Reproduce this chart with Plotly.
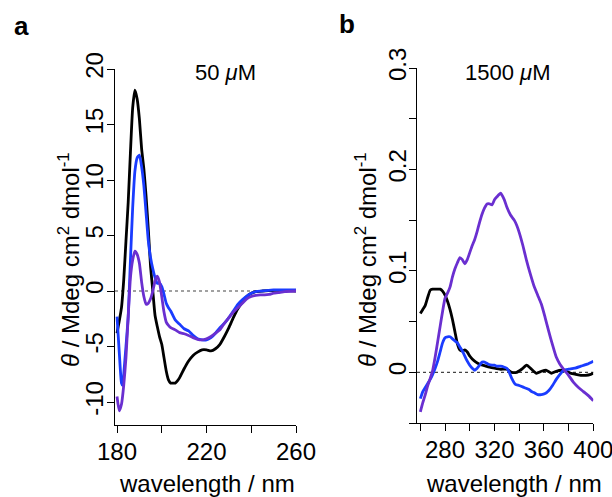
import plotly.graph_objects as go

W, H = 612, 497

# ---------------- Panel a (50 uM) ----------------
a_black_x = [180,181,182,183,184,185,186,187,188,189,190,191,192,193,194,195,196,197,198,199,200,
             201,202,203,204,205,206,207,208,209,210,212,214,216,218,220,222,224,226,228,230,232,
             234,236,238,240,242,245,250,255,260]
a_black_y = [-3.8,-2.7,-1.5,1.0,4.5,8.0,12.5,16.5,18.1,17.3,15.5,12.8,11.0,8.5,5.5,2.2,0.0,-2.2,-3.2,-4.1,-4.8,
             -6.0,-7.2,-8.0,-8.3,-8.3,-8.3,-8.1,-7.8,-7.4,-7.0,-6.3,-5.8,-5.5,-5.3,-5.3,-5.4,-5.2,-4.8,-4.1,-3.3,-2.4,
             -1.6,-1.0,-0.5,-0.2,-0.05,0.0,0.05,0.05,0.0]

a_blue_x = [180,181,182,182.5,183,184,185,186,187,188,189,190,191,192,193,194,195,196,197,198,199,200,
            201,202,203,204,206,208,210,212,214,216,218,220,222,224,226,228,230,232,234,236,238,240,
            242,245,250,255,260]
a_blue_y = [-2.3,-5.5,-8.3,-8.5,-7.5,-5.0,-2.3,2.8,7.5,10.8,12.0,12.25,11.2,9.5,7.0,4.5,3.0,2.0,1.2,0.7,0.7,0.4,
            -0.3,-1.1,-1.5,-1.8,-2.6,-3.0,-3.4,-3.6,-4.0,-4.3,-4.4,-4.4,-4.2,-3.8,-3.3,-2.9,-2.4,-1.8,-1.2,-0.8,-0.45,-0.2,
            -0.05,0.0,0.1,0.1,0.1]

a_purple_x = [180,181,182,183,184,185,186,187,188,189,190,191,192,193,194,195,196,197,198,199,200,
              201,202,203,204,206,208,210,212,214,216,218,220,222,224,226,228,230,232,234,236,238,240,
              242,244,246,248,250,252,255,260]
a_purple_y = [-9.5,-10.8,-10.2,-8.5,-6.0,-2.3,1.2,2.8,3.6,3.3,2.5,0.8,-0.5,-1.2,-1.1,-0.7,0.0,0.9,1.35,0.8,-0.5,
              -1.9,-2.8,-3.1,-3.3,-3.5,-3.75,-3.85,-4.0,-4.2,-4.35,-4.4,-4.3,-4.1,-3.8,-3.5,-2.9,-2.4,-1.9,-1.5,-1.1,-0.7,-0.5,
              -0.4,-0.35,-0.35,-0.3,-0.2,-0.15,-0.05,0.0]

# ---------------- Panel b (1500 uM) ----------------
b_black_x = [260,262,264,266,268,270,272,274,276,278,280,282,284,286,288,290,292,294,296,298,300,302,305,308,
             312,316,320,325,330,334,338,342,346,350,354,358,362,366,370,374,378,382,386,390,394,398,400]
b_black_y = [0.058,0.062,0.066,0.074,0.081,0.082,0.082,0.082,0.082,0.080,0.076,0.070,0.062,0.052,0.040,0.028,
             0.022,0.021,0.022,0.020,0.016,0.013,0.010,0.008,0.0065,0.005,0.004,0.003,0.003,0.0,0.0,0.003,0.007,
             0.003,-0.001,0.001,0.002,-0.001,0.001,0.002,0.001,-0.001,-0.002,-0.003,-0.003,-0.002,-0.001]

b_blue_x = [260,262,264,266,268,270,272,274,276,278,280,282,284,286,288,290,292,294,296,298,300,302,304,306,308,
            310,312,315,318,320,322,325,328,330,332,334,337,340,344,348,350,352,355,358,361,364,367,370,373,376,
            380,385,390,395,400]
b_blue_y = [-0.026,-0.019,-0.015,-0.011,-0.007,-0.002,0.004,0.011,0.020,0.029,0.034,0.035,0.035,0.033,0.031,
            0.029,0.025,0.021,0.016,0.011,0.007,0.004,0.002,0.004,0.007,0.010,0.010,0.008,0.007,0.007,0.006,0.006,
            0.005,0.004,0.0,-0.006,-0.012,-0.013,-0.015,-0.017,-0.019,-0.020,-0.022,-0.022,-0.021,-0.018,-0.013,
            -0.007,-0.002,0.002,0.003,0.004,0.006,0.008,0.011]

b_purple_x = [260,262,264,266,268,270,272,274,276,278,280,282,284,286,288,290,292,294,296,298,300,302,304,306,308,
              310,312,314,316,318,320,322,325,328,330,333,336,338,340,343,346,349,352,355,358,361,364,367,370,373,
              376,380,384,388,392,396,400]
b_purple_y = [-0.039,-0.030,-0.022,-0.013,-0.006,0.002,0.015,0.030,0.045,0.060,0.073,0.078,0.084,0.094,0.102,
              0.108,0.113,0.111,0.107,0.111,0.118,0.125,0.131,0.139,0.148,0.156,0.162,0.166,0.166,0.165,0.170,
              0.173,0.1765,0.170,0.163,0.155,0.150,0.145,0.138,0.125,0.110,0.097,0.085,0.076,0.067,0.054,0.040,
              0.027,0.015,0.008,0.003,-0.003,-0.010,-0.015,-0.019,-0.023,-0.028]

a_xticks = [180, 200, 220, 240, 260]
a_xlabels = ["180", "", "220", "", "260"]
a_yticks = [-10, -5, 0, 5, 10, 15, 20]
a_ylabels = ["-10", "-5", "0", "5", "10", "15", "20"]
b_xticks = [260, 280, 300, 320, 340, 360, 380, 400]
b_xlabels = ["", "280", "", "320", "", "360", "", "400"]
b_yticks = [-0.05, 0, 0.05, 0.1, 0.15, 0.2, 0.25, 0.3]
b_ylabels = ["", "0", "", "0.1", "", "0.2", "", "0.3"]

BLACK = "#000000"
BLUE = "#1a3cff"
PURPLE = "#6a2fd0"
FONT = "Liberation Sans"
LW = 2.8

def px_x(p):
    return p / W

def px_y(p):
    return 1 - p / H

fig = go.Figure()

for xs, ys, c in [(a_black_x, a_black_y, BLACK), (a_blue_x, a_blue_y, BLUE), (a_purple_x, a_purple_y, PURPLE)]:
    fig.add_trace(go.Scatter(x=xs, y=ys, mode="lines", line=dict(color=c, width=LW, shape="spline", smoothing=0.5),
                             xaxis="x", yaxis="y", showlegend=False))
for xs, ys, c in [(b_black_x, b_black_y, BLACK), (b_blue_x, b_blue_y, BLUE), (b_purple_x, b_purple_y, PURPLE)]:
    fig.add_trace(go.Scatter(x=xs, y=ys, mode="lines", line=dict(color=c, width=LW, shape="spline", smoothing=0.5),
                             xaxis="x2", yaxis="y2", showlegend=False))

axis_common = dict(showline=True, linecolor="black", linewidth=1, ticks="outside", ticklen=7,
                   tickcolor="black", tickwidth=1, showgrid=False, zeroline=False, automargin=False,
                   ticklabeloverflow="allow",
                   tickfont=dict(family=FONT, size=24, color="black"))

fig.update_layout(
    width=W, height=H, margin=dict(l=0, r=0, t=0, b=0, pad=0, autoexpand=False),
    paper_bgcolor="white", plot_bgcolor="white",
    xaxis=dict(domain=[px_x(115), px_x(296)], range=[179.1, 260], anchor="y",
               tickmode="array", tickvals=a_xticks, ticktext=a_xlabels, ticklabelstandoff=-2, **axis_common),
    yaxis=dict(domain=[px_y(425), px_y(69)], range=[-12.07, 20], anchor="x",
               tickmode="array", tickvals=a_yticks, ticktext=a_ylabels, tickangle=-90,
               ticklabelstandoff=-6, **axis_common),
    xaxis2=dict(domain=[px_x(417), px_x(593.3)], range=[257.3, 400], anchor="y2",
                tickmode="array", tickvals=b_xticks, ticktext=b_xlabels, ticklabelstandoff=-2, **axis_common),
    yaxis2=dict(domain=[px_y(423), px_y(68)], range=[-0.05, 0.3], anchor="x2",
                tickmode="array", tickvals=b_yticks, ticktext=b_ylabels, tickangle=-90,
                ticklabelstandoff=-7, **axis_common),
)

# dotted zero reference lines
for xr, yr in [("x domain", "y"), ("x2 domain", "y2")]:
    fig.add_shape(type="line", xref=xr, yref=yr, x0=0, x1=1, y0=0, y1=0,
                  line=dict(color="#444444", width=1.2, dash="dot"), layer="below")

ytitle = "<i>θ</i> / Mdeg cm<sup>2</sup> dmol<sup>-1</sup>"
annots = [
    dict(text="<b>a</b>", x=px_x(21), y=px_y(26), size=26),
    dict(text="<b>b</b>", x=px_x(347), y=px_y(24), size=26),
    dict(text="50 <i>μ</i>M", x=px_x(225), y=px_y(72), size=22),
    dict(text="1500 <i>μ</i>M", x=px_x(507), y=px_y(72), size=22),
    dict(text="wavelength / nm", x=px_x(207), y=px_y(483), size=24),
    dict(text="wavelength / nm", x=px_x(514), y=px_y(483), size=24),
    dict(text=ytitle, x=px_x(69), y=px_y(260), size=24, angle=-90),
    dict(text=ytitle, x=px_x(366), y=px_y(260), size=24, angle=-90),
]
for a in annots:
    fig.add_annotation(text=a["text"], x=a["x"], y=a["y"], xref="paper", yref="paper",
                       showarrow=False, xanchor="center", yanchor="middle",
                       textangle=a.get("angle", 0),
                       font=dict(family=FONT, size=a["size"], color="black"))

fig.write_html("out.html")
